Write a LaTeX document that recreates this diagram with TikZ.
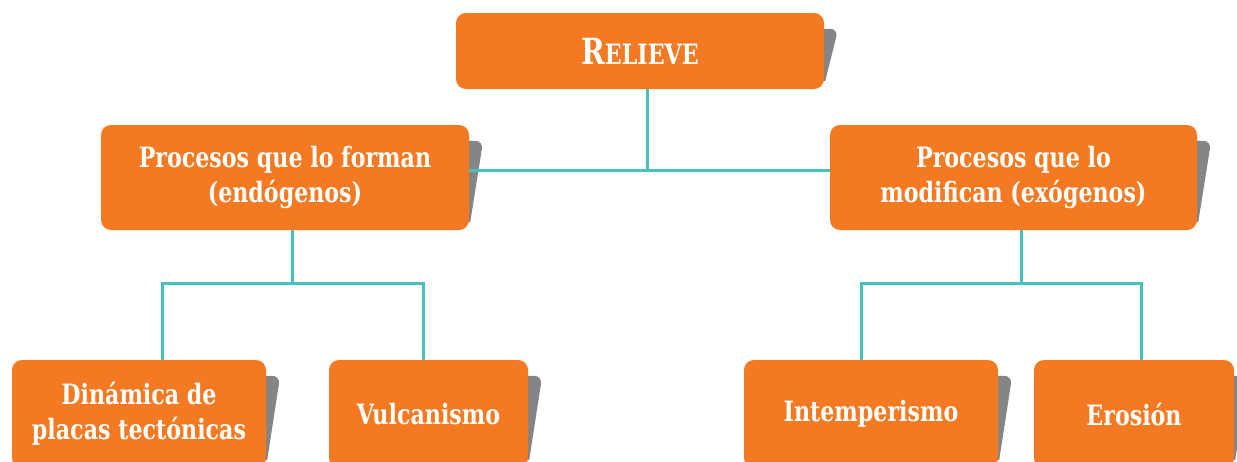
\documentclass[tikz,border=0pt]{standalone}
\usepackage{fontspec}
\setmainfont{DejaVu Serif Condensed}[FakeStretch=0.88]
\usetikzlibrary{calc,backgrounds}

\definecolor{boxorange}{RGB}{243,122,34}
\definecolor{shadegray}{RGB}{133,133,133}
\definecolor{linkteal}{RGB}{72,193,186}

\tikzset{
  box/.style={rectangle, rounded corners=10pt, fill=boxorange, text=white,
    font=\bfseries\fontsize{28}{35}\selectfont, align=center, inner sep=0pt},
  link/.style={draw=linkteal, line width=3pt},
}

\begin{document}
\begin{tikzpicture}[x=1pt,y=-1pt]
\useasboundingbox (0,0) rectangle (1237,461);
\clip (0,0) rectangle (1237,461);

% cajas
\node[box, minimum width=368pt, minimum height=76pt] (relieve) at (640,51)
  {{\fontsize{36}{40}\selectfont R}ELIEVE};
\node[box, minimum width=368pt, minimum height=105pt] (forman) at (285,177.5)
  {Procesos que lo forman\\(endógenos)};
\node[box, minimum width=367pt, minimum height=105pt] (modifican) at (1013.5,177.5)
  {Procesos que lo\\modifican (exógenos)};
\node[box, minimum width=254pt, minimum height=108pt] (dinamica) at (139,414)
  {Dinámica de\\placas tectónicas};
\node[box, minimum width=199pt, minimum height=108pt] (vulcanismo) at (428.5,414)
  {Vulcanismo};
\node[box, minimum width=254pt, minimum height=108pt] (intemperismo) at (871,414)
  {Intemperismo};
\node[box, minimum width=200pt, minimum height=108pt] (erosion) at (1134,414)
  {Erosión};

% sombras
\begin{pgfonlayer}{background}
\foreach \n in {relieve,forman,modifican,dinamica,vulcanismo,intemperismo,erosion}
  \fill[shadegray] ($(\n.north east)+(-20,16)$) [rounded corners=8pt]
    -- ($(\n.north east)+(14,16)$) [sharp corners]
    -- ($(\n.south east)+(1,-8)$) -- ($(\n.south east)+(-20,-8)$) -- cycle;
\end{pgfonlayer}

% conectores
\coordinate (tophub) at (647,170.5);
\coordinate (lhub) at (292,283);
\coordinate (rhub) at (1021,283);
\coordinate (lbarA) at (162,283);
\coordinate (lbarB) at (423,283);
\coordinate (rbarA) at (861,283);
\coordinate (rbarB) at (1141,283);

\begin{pgfonlayer}{background}
\draw[link] (tophub |- relieve.south) -- (tophub);
\draw[link] (forman.east |- tophub) -- (modifican.west |- tophub);
\draw[link] (lhub |- forman.south) -- (lhub);
\draw[link] (lbarA |- dinamica.north) -- (lbarA) -- (lbarB) -- (lbarB |- vulcanismo.north);
\draw[link] (rhub |- modifican.south) -- (rhub);
\draw[link] (rbarA |- intemperismo.north) -- (rbarA) -- (rbarB) -- (rbarB |- erosion.north);
\end{pgfonlayer}
\end{tikzpicture}
\end{document}
